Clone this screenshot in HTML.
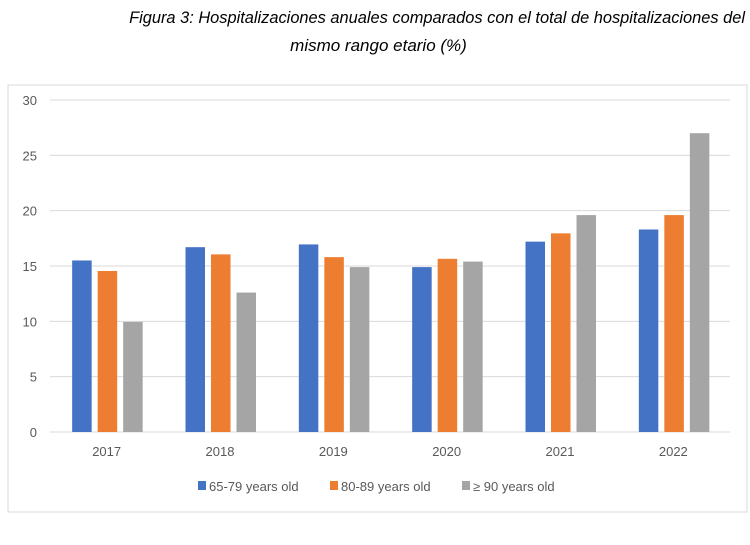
<!DOCTYPE html>
<html><head><meta charset="utf-8"><style>
body{margin:0;background:#fff;width:750px;height:545px;overflow:hidden;font-family:"Liberation Sans",sans-serif}
.t{position:absolute;font-style:italic;font-size:17px;color:#000;white-space:nowrap}
</style></head><body>
<div class="t" style="top:9px;right:5px;font-size:16.4px">Figura 3: Hospitalizaciones anuales comparados con el total de hospitalizaciones del</div>
<div class="t" style="top:36px;left:0;width:757px;text-align:center">mismo rango etario (%)</div>
<svg id="c" width="750" height="545" style="position:absolute;left:0;top:0">
<rect x="8" y="85" width="739" height="427" fill="none" stroke="#d9d9d9"/>
</svg>
<script>
const categories=["2017","2018","2019","2020","2021","2022"];
const s1=[15.5,16.7,16.95,14.9,17.2,18.3];
const s2=[14.55,16.05,15.8,15.65,17.95,19.6];
const s3=[9.95,12.6,14.9,15.4,19.6,27.0];
const yTicks=[0,5,10,15,20,25,30];
const seriesNames=["65-79 years old","80-89 years old","≥ 90 years old"];
const colors=["#4472c4","#ed7d31","#a5a5a5"];
const svg=document.getElementById('c');const NS="http://www.w3.org/2000/svg";
const L=50,R=730,T=100,B=432;
const y=v=>B-(v/30)*(B-T);
const bw=(R-L)/categories.length;
const x=i=>L+bw*i+bw/2;
function mk(t,a){const e=document.createElementNS(NS,t);for(const k in a)e.setAttribute(k,a[k]);svg.appendChild(e);return e;}
yTicks.forEach(v=>{
 const g=mk('line',{x1:L,x2:R,y1:y(v),y2:y(v),stroke:'#d9d9d9','stroke-width':1});
 
 
 const t=mk('text',{x:37,y:y(v)+5,'text-anchor':'end','font-size':13,fill:'#595959'});t.textContent=v;
 
 
});
[s1,s2,s3].forEach((s,si)=>{
 s.forEach((v,i)=>{
  const r=mk('rect',{x:x(i)-34.5+si*25.5,y:y(v),width:19.5,height:B-y(v),fill:colors[si]});
  
  
 });
});
categories.forEach((c,i)=>{
 const t=mk('text',{x:x(i),y:456,'text-anchor':'middle','font-size':13,fill:'#595959'});t.textContent=c;
 
 
});
const lx=[198,330,462];
seriesNames.forEach((n,i)=>{
 const r=mk('rect',{x:lx[i],y:481,width:8,height:9,fill:colors[i]});
 
 
 const t=mk('text',{x:lx[i]+11,y:491,'font-size':13,fill:'#595959'});t.textContent=n;
 
 
});
</script>
</body></html>
